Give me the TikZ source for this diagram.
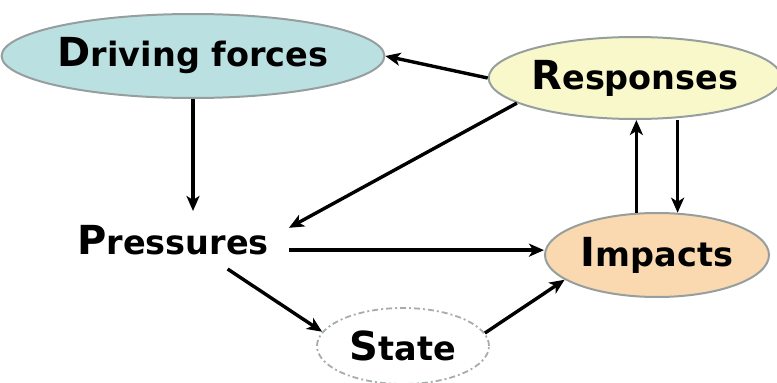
\documentclass[tikz,border=0pt]{standalone}
\usepackage{fontspec}
\setmainfont{DejaVu Sans}
\usetikzlibrary{shapes.geometric,arrows.meta,calc}
\definecolor{dfill}{RGB}{186,224,226}
\definecolor{rfill}{RGB}{248,248,202}
\definecolor{ifill}{RGB}{250,217,176}
\definecolor{edge}{RGB}{150,158,158}
\newcommand{\lbl}[2]{\bfseries{\fontsize{40}{40}\selectfont #1}{\fontsize{33.5}{33.5}\selectfont #2}}
\begin{document}
\begin{tikzpicture}[x=1pt,y=-1pt,
  oval/.style={ellipse,draw=edge,line width=2pt,inner sep=0pt},
  arr/.style={-{Stealth[length=15pt,width=13pt,inset=4pt]},line width=3.4pt,black}]
\useasboundingbox (0,0) rectangle (777,383);
\node[oval,fill=dfill,minimum width=366,minimum height=84] (dr) at (193,56) {\lbl{D}{riving forces}};
\node[oval,fill=rfill,minimum width=290,minimum height=82] (re) at (635,78) {\lbl{R}{esponses}};
\node[oval,fill=ifill,minimum width=224,minimum height=84] (im) at (657,255) {\lbl{I}{mpacts}};
\node[ellipse,draw=edge!85,dash pattern=on 6pt off 3pt on 2pt off 3pt,line width=1.8pt,minimum width=172,minimum height=76,inner sep=0pt] (st) at (403,346) {\lbl{S}{tate}};
\node[inner xsep=20pt,inner ysep=14pt] (pr) at (173,240) {\lbl{P}{ressures}};
\draw[arr] (re.west) -- (dr.east);
\draw[arr] (dr.south) -- (dr.south |- pr.north);
\draw[arr] (re.192) -- (pr.6);
\draw[arr] (pr.-5) -- (pr.-5 -| im.west);
\draw[arr] (pr.-28) -- (st.170);
\draw[arr] (st.9) -- (im.195);
\draw[arr] (im.116) -- (im.116 |- re.south);
\draw[arr] (im.64 |- re.south) -- (im.64);
\end{tikzpicture}
\end{document}
